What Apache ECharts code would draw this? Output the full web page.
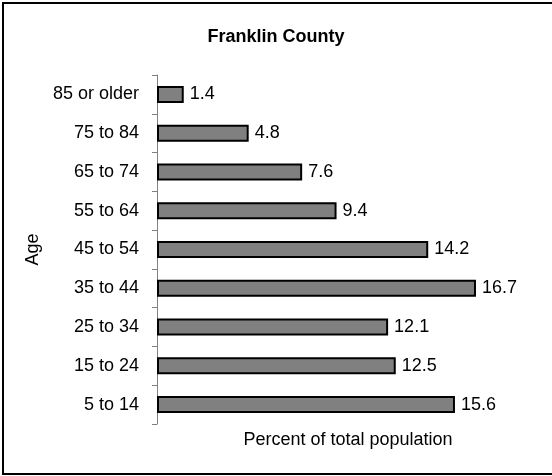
<!DOCTYPE html>
<html>
<head>
<meta charset="utf-8">
<script src="https://cdn.jsdelivr.net/npm/echarts@6/dist/echarts.min.js"></script>
<style>
  html, body { margin: 0; padding: 0; background: #fff; }
  #chart { width: 552px; height: 476px; }
</style>
</head>
<body>
<div id="chart"></div>
<script>
// Age groups, listed bottom to top
const ageGroups = ['5 to 14', '15 to 24', '25 to 34', '35 to 44', '45 to 54', '55 to 64', '65 to 74', '75 to 84', '85 or older'];
// Share of total population (%) for each age group
const percentValues = [15.6, 12.5, 12.1, 16.7, 14.2, 9.4, 7.6, 4.8, 1.4];

const FONT = '"Liberation Sans", Arial, sans-serif';

const chart = echarts.init(document.getElementById('chart'), null, { renderer: 'canvas' });
chart.setOption({
  animation: false,
  backgroundColor: '#ffffff',
  title: {
    text: 'Franklin County',
    left: 'center',
    top: 23,
    textStyle: { fontFamily: FONT, fontSize: 18, fontWeight: 'bold', color: '#000' }
  },
  graphic: [{
    type: 'rect',
    shape: { x: 3, y: 3, width: 600, height: 471 },
    style: { fill: 'none', stroke: '#000', lineWidth: 2 },
    silent: true
  }],
  grid: { left: 157, top: 75, width: 382, height: 349, containLabel: false },
  xAxis: {
    type: 'value',
    min: 0,
    max: 20,
    name: 'Percent of total population',
    nameLocation: 'middle',
    nameGap: 7,
    nameTextStyle: { fontFamily: FONT, fontSize: 18, color: '#000', verticalAlign: 'top' },
    axisLine: { show: false },
    axisTick: { show: false },
    axisLabel: { show: false },
    splitLine: { show: false }
  },
  yAxis: {
    type: 'category',
    data: ageGroups,
    name: 'Age',
    nameLocation: 'middle',
    nameRotate: 90,
    nameGap: 114,
    nameTextStyle: { fontFamily: FONT, fontSize: 18, color: '#000' },
    axisLine: { show: true, lineStyle: { color: '#808080', width: 1 } },
    axisTick: { show: true, length: 5, lineStyle: { color: '#808080', width: 1 } },
    axisLabel: { margin: 18, fontFamily: FONT, fontSize: 18, color: '#000' },
    splitLine: { show: false }
  },
  series: [{
    type: 'bar',
    data: percentValues,
    barWidth: 17,
    itemStyle: { color: '#808080', borderColor: '#000', borderWidth: 2 },
    label: {
      show: true,
      position: 'right',
      distance: 6,
      fontFamily: FONT,
      fontSize: 18,
      color: '#000',
      formatter: p => p.value.toFixed(1)
    }
  }]
});
</script>
</body>
</html>
